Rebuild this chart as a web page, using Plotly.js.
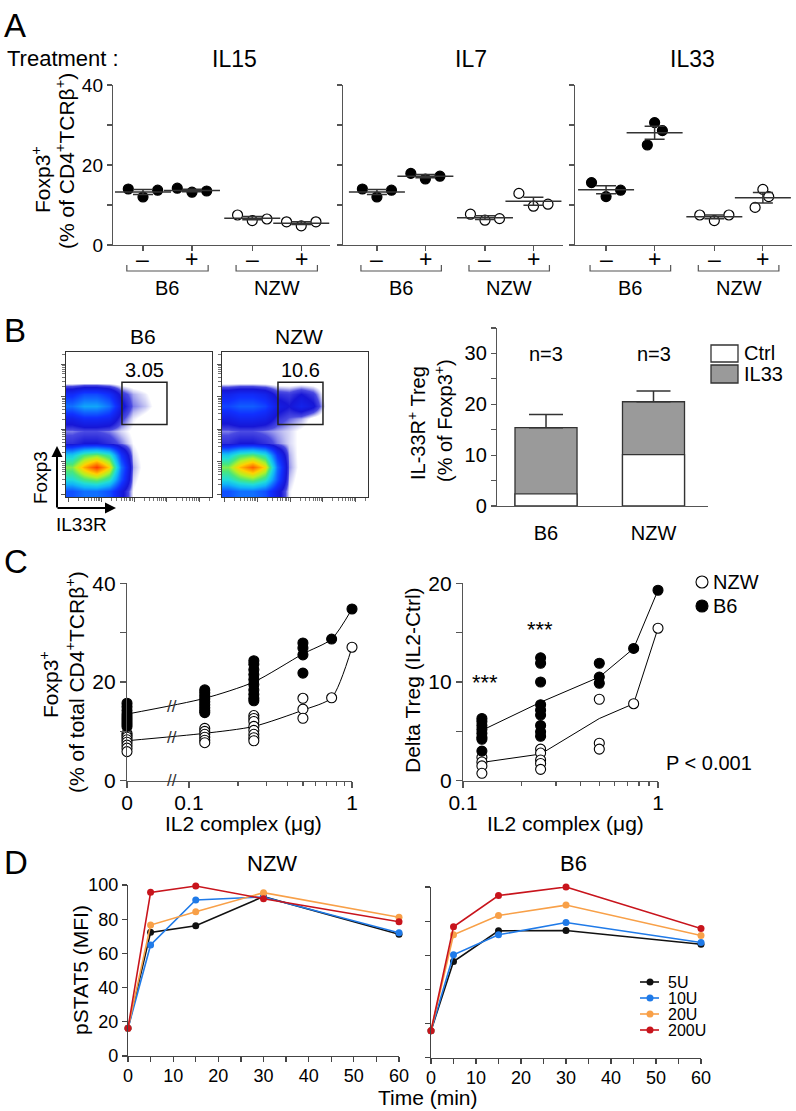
<!DOCTYPE html>
<html><head><meta charset="utf-8">
<script src="https://cdn.plot.ly/plotly-3.0.1.min.js"></script>
<style>body{margin:0;background:#fff}#chart{width:796px;height:1111px}</style>
</head><body><div id="chart"></div>
<script>
// ================= DATA =================
// Panel A : Foxp3+ (% of CD4+TCRb+) per treatment, groups B6-, B6+, NZW-, NZW+
const aTreatments = ['IL15', 'IL7', 'IL33'];
const aSigns = ['–', '+', '–', '+'];
const aStrains = ['B6', 'NZW'];
const aIL15 = [[14.0, 12.0, 13.7], [14.2, 13.2, 13.5], [7.5, 6.1, 6.5], [5.8, 4.8, 5.8]];
const aIL7  = [[14.0, 12.0, 13.7], [17.9, 16.5, 17.2], [7.7, 6.2, 6.6], [12.9, 9.7, 10.2]];
const aIL33 = [[15.6, 12.1, 13.7], [25.0, 30.6, 28.6], [7.5, 6.1, 7.5], [9.4, 13.9, 12.1]];

// Panel B : flow density grids (rows bottom->top = Foxp3 low->high, cols IL33R low->high)
const flowTitles = ['B6', 'NZW'];
const flowGatePct = ['3.05', '10.6'];
const flowB6 = [
  [2.5, 3, 3, 2.5, 1.2, 0.2, 0, 0, 0, 0, 0, 0],
  [5, 6, 6.5, 5.5, 2.5, 0.3, 0.05, 0, 0, 0, 0, 0],
  [6.5, 8.5, 10, 8, 3, 0.4, 0.1, 0, 0, 0, 0, 0],
  [4.5, 6, 6.5, 5.5, 2, 0.3, 0.1, 0, 0, 0, 0, 0],
  [0.8, 1, 1, 0.8, 0.5, 0.2, 0.1, 0, 0, 0, 0, 0],
  [0.5, 0.6, 0.6, 0.5, 0.3, 0.15, 0.05, 0, 0, 0, 0, 0],
  [1.4, 1.8, 1.8, 1.6, 0.7, 0.25, 0.1, 0, 0, 0, 0, 0],
  [3.0, 3.8, 3.8, 3.0, 1.2, 0.5, 0.35, 0.1, 0, 0, 0, 0],
  [1.8, 2.4, 2.4, 1.9, 0.8, 0.4, 0.25, 0.05, 0, 0, 0, 0],
  [0, 0, 0, 0, 0, 0, 0, 0, 0, 0, 0, 0],
  [0, 0, 0, 0, 0, 0, 0, 0, 0, 0, 0, 0],
  [0, 0, 0, 0, 0, 0, 0, 0, 0, 0, 0, 0]
];
const flowNZW = [
  [2.5, 3, 3, 2.5, 1.3, 0.25, 0, 0, 0, 0, 0, 0],
  [5, 6, 6.5, 5.5, 2.6, 0.35, 0.05, 0, 0, 0, 0, 0],
  [6.5, 8.3, 9.5, 7.8, 3, 0.45, 0.1, 0, 0, 0, 0, 0],
  [4.5, 5.8, 6.2, 5.2, 2, 0.4, 0.1, 0, 0, 0, 0, 0],
  [0.8, 1, 1, 0.8, 0.5, 0.3, 0.15, 0.05, 0, 0, 0, 0],
  [0.5, 0.6, 0.6, 0.5, 0.4, 0.3, 0.15, 0.05, 0, 0, 0, 0],
  [1.3, 1.6, 1.6, 1.4, 0.8, 0.55, 0.4, 0.1, 0, 0, 0, 0],
  [2.3, 2.7, 2.7, 2.3, 1.3, 1.0, 1.5, 1.1, 0.15, 0, 0, 0],
  [1.5, 1.8, 1.8, 1.5, 0.8, 0.7, 1.0, 0.7, 0.05, 0, 0, 0],
  [0, 0, 0, 0, 0, 0, 0, 0, 0, 0, 0, 0],
  [0, 0, 0, 0, 0, 0, 0, 0, 0, 0, 0, 0],
  [0, 0, 0, 0, 0, 0, 0, 0, 0, 0, 0, 0]
];
// Panel B bars : IL-33R+ Treg (% of Foxp3+)
const bCats = ['B6', 'NZW'];
const bCtrl = [2.4, 10.1];
const bIL33 = [15.4, 20.5];
const bIL33Err = [2.6, 2.1];
const bN = ['n=3', 'n=3'];
const bLegend = ['Ctrl', 'IL33'];

// Panel C
const cDoses = [0, 0.125, 0.25, 0.5, 0.75, 1];
const cLeftB6 = [[15.7, 15.0, 14.2, 13.5, 13.0, 12.5, 12.0, 11.5, 11.0], [18.4, 17.8, 17.2, 16.6, 16.0, 15.4, 14.8, 14.2, 13.8],
  [24.3, 23.6, 22.5, 21.5, 20.5, 19.5, 18.4, 17.5, 16.7, 16.2], [27.9, 26.9, 25.5, 21.8], [28.7], [34.8]];
const cLeftNZW = [[9.6, 9.2, 8.8, 8.3, 7.8, 7.2, 6.6, 5.9], [10.6, 10.0, 9.4, 8.8, 8.2, 7.7],
  [13.2, 12.6, 12.0, 11.0, 10.2, 9.4, 8.7, 8.1], [16.7, 14.5, 12.65], [16.8], [27.05]];
const cLeftB6Line = [13.5, 16.7, 20.0, 25.7, 28.7, 34.8];
const cLeftNZWLine = [8.1, 9.6, 11.0, 14.3, 16.8, 27.05];
const cRightDoses = [0.125, 0.25, 0.5, 0.75, 1];
const cRightB6 = [[6.3, 6.0, 5.6, 5.2, 4.8, 4.4, 4.2, 3.0], [12.45, 11.9, 10.0, 7.7, 7.15, 6.65, 5.6, 4.95, 4.5],
  [11.9, 10.5, 9.87], [13.4], [19.3]];
const cRightNZW = [[2.37, 1.9, 1.5, 0.75], [3.2, 2.8, 2.1, 1.75, 1.15], [8.25, 3.8, 3.2], [7.8], [15.45]];
const cRightB6Line = [5.1, 7.95, 10.5, 13.4, 19.3];
const cRightNZWLine = [1.85, 2.7, 6.3, 7.8, 15.45];
const cLegend = ['NZW', 'B6'];

// Panel D : pSTAT5 (MFI) vs time
const dTime = [0, 5, 15, 30, 60];
const dSeries = ['5U', '10U', '20U', '200U'];
const dNZW5U = [16.2, 72.3, 76.2, 93.2, 71.2];
const dNZW10U = [16.2, 64.9, 91.2, 93.0, 72.1];
const dNZW20U = [16.2, 76.6, 84.4, 95.5, 81.1];
const dNZW200U = [16.2, 95.7, 99.4, 92.0, 78.5];
const dB6_5U = [15.8, 56.3, 74.3, 74.5, 66.5];
const dB6_10U = [15.8, 60.3, 72.0, 79.2, 67.5];
const dB6_20U = [15.8, 72.0, 83.3, 89.4, 71.6];
const dB6_200U = [15.8, 76.7, 95.0, 100.0, 75.7];

// ================= LAYOUT HELPERS =================
const W = 796, H = 1111;
const px = v => v / W, py = v => 1 - v / H;
const dx = (a, b) => [a / W, b / W], dy = (t, b) => [1 - b / H, 1 - t / H];
const FONT = 'Liberation Sans, Arial, Helvetica, sans-serif';
const AX = '#555';

const traces = [];
const shapes = [];
const ann = [];
const layout = {
  width: W, height: H, margin: {l: 0, r: 0, t: 0, b: 0},
  paper_bgcolor: '#fff', plot_bgcolor: 'rgba(0,0,0,0)',
  font: {family: FONT, color: '#000', size: 18},
  showlegend: false, barmode: 'overlay'
};
function axis(extra) {
  return Object.assign({showgrid: false, zeroline: false, showline: true, linecolor: AX, linewidth: 1.2,
    ticks: 'outside', tickcolor: AX, tickwidth: 1.2, ticklen: 5, fixedrange: true,
    tickfont: {size: 18, color: '#000'}}, extra);
}
function minorTicks(vals, len, color) {
  return {tickmode: 'array', tickvals: vals, ticklen: len, ticks: 'outside', tickcolor: color || AX, tickwidth: 1.2};
}
function txt(x, y, text, size, extra) {
  ann.push(Object.assign({xref: 'paper', yref: 'paper', x: x, y: y, text: text, showarrow: false,
    font: {size: size, color: '#000', family: FONT}, xanchor: 'center', yanchor: 'middle'}, extra || {}));
}
const mean = a => a.reduce((s, v) => s + v, 0) / a.length;
const sem = a => { const m = mean(a); return Math.sqrt(a.reduce((s, v) => s + (v - m) * (v - m), 0) / (a.length - 1)) / Math.sqrt(a.length); };

// ================= PANEL A =================
const aGroupPos = [1, 2, 3.23, 4.23];
const aJitterEven = [[-0.3, 0, 0.3], [-0.3, 0, 0.3], [-0.3, 0, 0.3], [-0.3, 0, 0.3]];
const aJitterIL33 = [[-0.3, 0, 0.3], [-0.15, 0, 0.16], [-0.3, 0, 0.3], [-0.16, 0, 0.12]];
const aData = [aIL15, aIL7, aIL33];
const aJit = [aJitterEven, aJitterEven, aJitterIL33];
const aDom = [[113, 330], [343, 563], [575, 792]];
const aRange = [[0.388, 4.817], [0.30, 4.84], [0.36, 4.83]];
const aTitleX = [235, 471, 692];
aData.forEach((vals, i) => {
  const n = i === 0 ? '' : String(i + 1);
  const xa = 'x' + n, ya = 'y' + n;
  layout['xaxis' + n] = axis({domain: dx(...aDom[i]), range: aRange[i], anchor: ya,
    tickvals: aGroupPos, showticklabels: false});
  layout['yaxis' + n] = axis({domain: dy(85, 245), range: [0, 40], anchor: xa,
    tickvals: [0, 20, 40], showticklabels: i === 0, minor: minorTicks([10, 30], 5),
    tickfont: {size: 19, color: '#000'}});
  vals.forEach((g, gi) => {
    traces.push({type: 'scatter', mode: 'markers', xaxis: xa, yaxis: ya, cliponaxis: false,
      x: g.map((v, k) => aGroupPos[gi] + aJit[i][gi][k]), y: g, hoverinfo: 'y',
      marker: {size: 10, color: gi < 2 ? '#000' : '#fff', line: {color: '#000', width: 1.2}}});
  });
  traces.push({type: 'scatter', mode: 'markers', xaxis: xa, yaxis: ya, cliponaxis: false,
    x: aGroupPos, y: vals.map(mean), hoverinfo: 'y',
    marker: {symbol: 'line-ew', size: 40, color: '#333', line: {color: '#333', width: 1.5}},
    error_y: {type: 'data', array: vals.map(sem), width: 10, thickness: 1.5, color: '#333'}});
  aSigns.forEach((s, gi) => ann.push({xref: xa, yref: 'paper', x: aGroupPos[gi], y: py(259), text: s,
    showarrow: false, font: {size: 23, color: '#000', family: FONT}, yanchor: 'middle'}));
  aStrains.forEach((s, si) => {
    const c = (aGroupPos[2 * si] + aGroupPos[2 * si + 1]) / 2;
    shapes.push({type: 'path', xref: xa, yref: 'paper', line: {color: AX, width: 1.2},
      path: `M ${c - 0.83},${py(265)} L ${c - 0.83},${py(271)} L ${c + 0.83},${py(271)} L ${c + 0.83},${py(265)}`});
    ann.push({xref: xa, yref: 'paper', x: c, y: py(288), text: s, showarrow: false,
      font: {size: 20, color: '#000', family: FONT}, yanchor: 'middle'});
  });
  txt(px(aTitleX[i]), py(59), aTreatments[i], 23);
});
txt(px(2), py(25), 'A', 33, {xanchor: 'left'});
txt(px(5), py(59), 'Treatment :', 22, {xanchor: 'left'});
txt(px(41), py(180), 'Foxp3<sup>+</sup>', 21, {textangle: -90});
txt(px(65), py(161), '(% of CD4<sup>+</sup>TCRβ<sup>+</sup>)', 21, {textangle: -90});

// ================= PANEL B : flow =================
const flowScale = [[0, '#ffffff'], [0.02, '#ffffff'], [0.035, '#c4c4f2'], [0.06, '#4a4ae2'], [0.1, '#1616d6'],
  [0.2, '#1030ff'], [0.3, '#1070ff'], [0.4, '#10b4f8'], [0.5, '#20dcd8'], [0.6, '#48e67c'], [0.7, '#b4f024'],
  [0.8, '#ffd200'], [0.9, '#ff8400'], [1, '#ff3a00']];
const flowMajor = [-0.3, 2.4, 5.1, 7.8, 10.5];
const flowMinor = [];
flowMajor.forEach(m => { for (let k = 2; k <= 9; k++) { const v = m + 2.7 * Math.log10(k); if (v < 11.5) flowMinor.push(v); } });
[flowB6, flowNZW].forEach((grid, i) => {
  const n = String(4 + i);
  const x0 = i === 0 ? 66 : 222;
  const ax = {range: [-0.5, 11.5], mirror: true, linecolor: '#333', ticklen: 4, tickvals: flowMajor,
    showticklabels: false, tickcolor: '#555', tickwidth: 1,
    minor: {tickmode: 'array', tickvals: flowMinor, ticklen: 2.5, ticks: 'outside', tickcolor: '#777', tickwidth: 1}};
  layout['xaxis' + n] = axis(Object.assign({domain: dx(x0, x0 + 146), anchor: 'y' + n}, ax));
  layout['yaxis' + n] = axis(Object.assign({domain: dy(352, 497), anchor: 'x' + n}, ax));
  traces.push({type: 'heatmap', z: grid, xaxis: 'x' + n, yaxis: 'y' + n, zsmooth: 'best', zmin: 0, zmax: 10,
    colorscale: flowScale, showscale: false, hoverinfo: 'skip'});
  shapes.push({type: 'rect', xref: 'x' + n, yref: 'y' + n, x0: 4.1, x1: 7.8, y0: 5.5, y1: 9.0,
    line: {color: '#222', width: 1.5}});
  ann.push({xref: 'x' + n, yref: 'y' + n, x: 5.95, y: 10.0, text: flowGatePct[i], showarrow: false,
    font: {size: 20, color: '#000', family: FONT}});
  txt(px(x0 + 77), py(337), flowTitles[i], 21);
});
txt(px(2), py(330), 'B', 33, {xanchor: 'left'});
ann.push({xref: 'paper', yref: 'paper', x: px(57), y: py(446), ax: px(57), ay: py(509), axref: 'paper', ayref: 'paper',
  text: '', showarrow: true, arrowhead: 2, arrowsize: 1.1, arrowwidth: 2, arrowcolor: '#000'});
ann.push({xref: 'paper', yref: 'paper', x: px(116), y: py(508), ax: px(56), ay: py(508), axref: 'paper', ayref: 'paper',
  text: '', showarrow: true, arrowhead: 2, arrowsize: 1.1, arrowwidth: 2, arrowcolor: '#000'});
txt(px(40), py(478), 'Foxp3', 19, {textangle: -90});
txt(px(54), py(524), 'IL33R', 19, {xanchor: 'left'});

// ================= PANEL B : bars =================
layout.xaxis6 = axis({domain: dx(497, 708), range: [-0.456, 1.507], anchor: 'y6', tickvals: [0, 1], ticktext: bCats,
  ticklen: 9, tickcolor: 'rgba(0,0,0,0)', tickfont: {size: 20, color: '#000'}});
layout.yaxis6 = axis({domain: dy(328, 506), range: [0, 35], anchor: 'x6', tickvals: [0, 10, 20, 30],
  minor: minorTicks([5, 15, 25, 35], 5), tickfont: {size: 20, color: '#000'}});
traces.push({type: 'bar', x: [0, 1], y: bIL33, width: 0.577, xaxis: 'x6', yaxis: 'y6', name: bLegend[1],
  marker: {color: '#9a9a9a', line: {color: '#333', width: 1.3}},
  error_y: {type: 'data', symmetric: false, array: bIL33Err, arrayminus: [0, 0], width: 17, thickness: 1.5, color: '#333'}});
traces.push({type: 'bar', x: [0, 1], y: bCtrl, width: 0.577, xaxis: 'x6', yaxis: 'y6', name: bLegend[0],
  marker: {color: '#fff', line: {color: '#333', width: 1.3}}});
bN.forEach((t, i) => ann.push({xref: 'x6', yref: 'y6', x: i, y: 29.8, text: t, showarrow: false,
  font: {size: 20, color: '#000', family: FONT}}));
// legend keys
shapes.push({type: 'rect', xref: 'paper', yref: 'paper', x0: px(711), x1: px(738), y0: py(362), y1: py(345),
  fillcolor: '#fff', line: {color: '#333', width: 1.3}});
shapes.push({type: 'rect', xref: 'paper', yref: 'paper', x0: px(711), x1: px(738), y0: py(383), y1: py(365),
  fillcolor: '#9a9a9a', line: {color: '#333', width: 1.3}});
txt(px(742), py(353), bLegend[0], 20, {xanchor: 'left'});
txt(px(742), py(374), bLegend[1], 20, {xanchor: 'left'});
txt(px(417), py(423), 'IL-33R<sup>+</sup> Treg', 20, {textangle: -90});
txt(px(443), py(421), '(% of Foxp3<sup>+</sup>)', 20, {textangle: -90});

// ================= PANEL C =================
const C_ZERO_AT = Math.pow(10, -1.38); // where dose 0 sits on the broken log axis
const cPos = d => (d === 0 ? C_ZERO_AT : d);
const cMinor = [0.2, 0.3, 0.4, 0.5, 0.6, 0.7, 0.8, 0.9];
layout.xaxis7 = axis({domain: dx(127, 352), type: 'log', range: [-1.38, 0], anchor: 'y7',
  tickvals: [C_ZERO_AT, 0.1, 1], ticktext: ['0', '0.1', '1'], ticklen: 6, tickfont: {size: 21, color: '#000'},
  ticklabelstandoff: -3, minor: minorTicks(cMinor, 4)});
layout.yaxis7 = axis({domain: dy(583.3, 780.7), range: [0, 40], anchor: 'x7', tickvals: [0, 20, 40],
  minor: minorTicks([10, 30], 6), ticklen: 6, tickfont: {size: 21, color: '#000'}});
layout.xaxis8 = axis({domain: dx(463, 658), type: 'log', range: [-1, 0], anchor: 'y8',
  tickvals: [0.1, 1], ticktext: ['0.1', '1'], ticklen: 6, tickfont: {size: 21, color: '#000'},
  ticklabelstandoff: -3, minor: minorTicks(cMinor, 4)});
layout.yaxis8 = axis({domain: dy(583.3, 780.7), range: [0, 20], anchor: 'x8', tickvals: [0, 10, 20],
  minor: minorTicks([5, 15], 6), ticklen: 6, tickfont: {size: 21, color: '#000'}});
function flat(doses, groups) {
  const x = [], y = [];
  groups.forEach((g, i) => g.forEach(v => { x.push(cPos(doses[i])); y.push(v); }));
  return {x, y};
}
const cLine = {color: '#000', width: 1};
const openM = {size: 10, color: '#fff', line: {color: '#000', width: 1.1}};
const fillM = {size: 10, color: '#000', line: {color: '#000', width: 1.1}};
traces.push({type: 'scatter', mode: 'lines', xaxis: 'x7', yaxis: 'y7', x: cDoses.map(cPos), y: cLeftB6Line,
  line: Object.assign({shape: 'spline', smoothing: 0.7}, cLine), hoverinfo: 'skip'});
traces.push({type: 'scatter', mode: 'lines', xaxis: 'x7', yaxis: 'y7', x: cDoses.map(cPos), y: cLeftNZWLine,
  line: Object.assign({shape: 'spline', smoothing: 0.7}, cLine), hoverinfo: 'skip'});
const cl1 = flat(cDoses, cLeftNZW), cl2 = flat(cDoses, cLeftB6);
traces.push({type: 'scatter', mode: 'markers', xaxis: 'x7', yaxis: 'y7', x: cl1.x, y: cl1.y, cliponaxis: false, marker: openM});
traces.push({type: 'scatter', mode: 'markers', xaxis: 'x7', yaxis: 'y7', x: cl2.x, y: cl2.y, cliponaxis: false, marker: fillM});
traces.push({type: 'scatter', mode: 'lines', xaxis: 'x8', yaxis: 'y8', x: cRightDoses, y: cRightB6Line, line: cLine, hoverinfo: 'skip'});
traces.push({type: 'scatter', mode: 'lines', xaxis: 'x8', yaxis: 'y8', x: cRightDoses, y: cRightNZWLine, line: cLine, hoverinfo: 'skip'});
const cr1 = flat(cRightDoses, cRightNZW), cr2 = flat(cRightDoses, cRightB6);
traces.push({type: 'scatter', mode: 'markers', xaxis: 'x8', yaxis: 'y8', x: cr1.x, y: cr1.y, cliponaxis: false, name: cLegend[0], marker: openM});
traces.push({type: 'scatter', mode: 'markers', xaxis: 'x8', yaxis: 'y8', x: cr2.x, y: cr2.y, cliponaxis: false, name: cLegend[1], marker: fillM});
// legend keys for C
[[582, '#fff'], [606, '#000']].forEach((k, i) => {
  shapes.push({type: 'circle', xref: 'paper', yref: 'paper', x0: px(696), x1: px(708), y0: py(k[0] + 6), y1: py(k[0] - 6),
    fillcolor: k[1], line: {color: '#000', width: 1.1}});
  txt(px(711), py(k[0]), cLegend[i], 20, {xanchor: 'left'});
});
// axis breaks
[0, 15.0, 8.8].forEach(v => ann.push({xref: 'paper', yref: 'y7', x: px(165), y: v, text: '//', showarrow: false,
  font: {size: 17, color: '#333', family: FONT}}));
txt(px(2), py(561), 'C', 33, {xanchor: 'left'});
txt(px(49), py(685), 'Foxp3<sup>+</sup>', 21, {textangle: -90});
txt(px(75), py(682), '(% of total CD4<sup>+</sup>TCRβ<sup>+</sup>)', 21, {textangle: -90});
txt(px(412), py(680), 'Delta Treg (IL2-Ctrl)', 21, {textangle: -90});
txt(px(243), py(823), 'IL2 complex (μg)', 21);
txt(px(565), py(823), 'IL2 complex (μg)', 21);
ann.push({xref: 'x8', yref: 'y8', x: Math.log10(0.129), y: 10.0, text: '***', showarrow: false,
  font: {size: 22, color: '#000', family: FONT}});
ann.push({xref: 'x8', yref: 'y8', x: Math.log10(0.248), y: 15.3, text: '***', showarrow: false,
  font: {size: 22, color: '#000', family: FONT}});
txt(px(709), py(763), 'P &lt; 0.001', 20);

// ================= PANEL D =================
const dColors = ['#111111', '#1f7ae8', '#f8a048', '#c8141c'];
const dNZW = [dNZW5U, dNZW10U, dNZW20U, dNZW200U];
const dB6 = [dB6_5U, dB6_10U, dB6_20U, dB6_200U];
const dMinor = minorTicks([5, 15, 25, 35, 45, 55], 5, '#444');
layout.xaxis9 = axis({domain: dx(128, 399), range: [0, 60], anchor: 'y9', tickvals: [0, 10, 20, 30, 40, 50, 60],
  linecolor: '#444', tickcolor: '#444', tickfont: {size: 18, color: '#000'}, ticklabelstandoff: -2, minor: dMinor});
layout.yaxis9 = axis({domain: dy(885, 1056), range: [0, 100], anchor: 'x9', tickvals: [0, 20, 40, 60, 80, 100],
  linecolor: '#444', tickcolor: '#444', tickfont: {size: 18, color: '#000'}});
layout.xaxis10 = axis({domain: dx(431, 701), range: [0, 60], anchor: 'y10', tickvals: [0, 10, 20, 30, 40, 50, 60],
  linecolor: '#444', tickcolor: '#444', tickfont: {size: 18, color: '#000'}, ticklabelstandoff: -2, minor: dMinor});
layout.yaxis10 = axis({domain: dy(887, 1057.7), range: [0, 100], anchor: 'x10', tickvals: [0, 20, 40, 60, 80, 100],
  showticklabels: false, linecolor: '#444', tickcolor: '#444'});
dSeries.forEach((s, i) => {
  traces.push({type: 'scatter', mode: 'lines+markers', xaxis: 'x9', yaxis: 'y9', x: dTime, y: dNZW[i], name: s,
    cliponaxis: false, line: {color: dColors[i], width: 1.6}, marker: {size: 7, color: dColors[i]}});
  traces.push({type: 'scatter', mode: 'lines+markers', xaxis: 'x10', yaxis: 'y10', x: dTime, y: dB6[i], name: s,
    cliponaxis: false, line: {color: dColors[i], width: 1.6}, marker: {size: 7, color: dColors[i]}});
  // legend key
  const ky = 982 + i * 16;
  shapes.push({type: 'line', xref: 'paper', yref: 'paper', x0: px(640), x1: px(659), y0: py(ky), y1: py(ky),
    line: {color: dColors[i], width: 1.6}});
  shapes.push({type: 'circle', xref: 'paper', yref: 'paper', x0: px(646.5), x1: px(653.5), y0: py(ky + 3.5), y1: py(ky - 3.5),
    fillcolor: dColors[i], line: {color: dColors[i], width: 0}});
  txt(px(667), py(ky), s, 16, {xanchor: 'left', borderpad: 0});
});
txt(px(2), py(862), 'D', 33, {xanchor: 'left'});
txt(px(272), py(863), 'NZW', 22);
txt(px(573), py(863), 'B6', 22);
txt(px(81), py(970), 'pSTAT5 (MFI)', 21, {textangle: -90});
txt(px(428), py(1097), 'Time (min)', 21);

layout.shapes = shapes;
layout.annotations = ann;
Plotly.newPlot('chart', traces, layout, {staticPlot: true, displayModeBar: false});
</script>
</body></html>
